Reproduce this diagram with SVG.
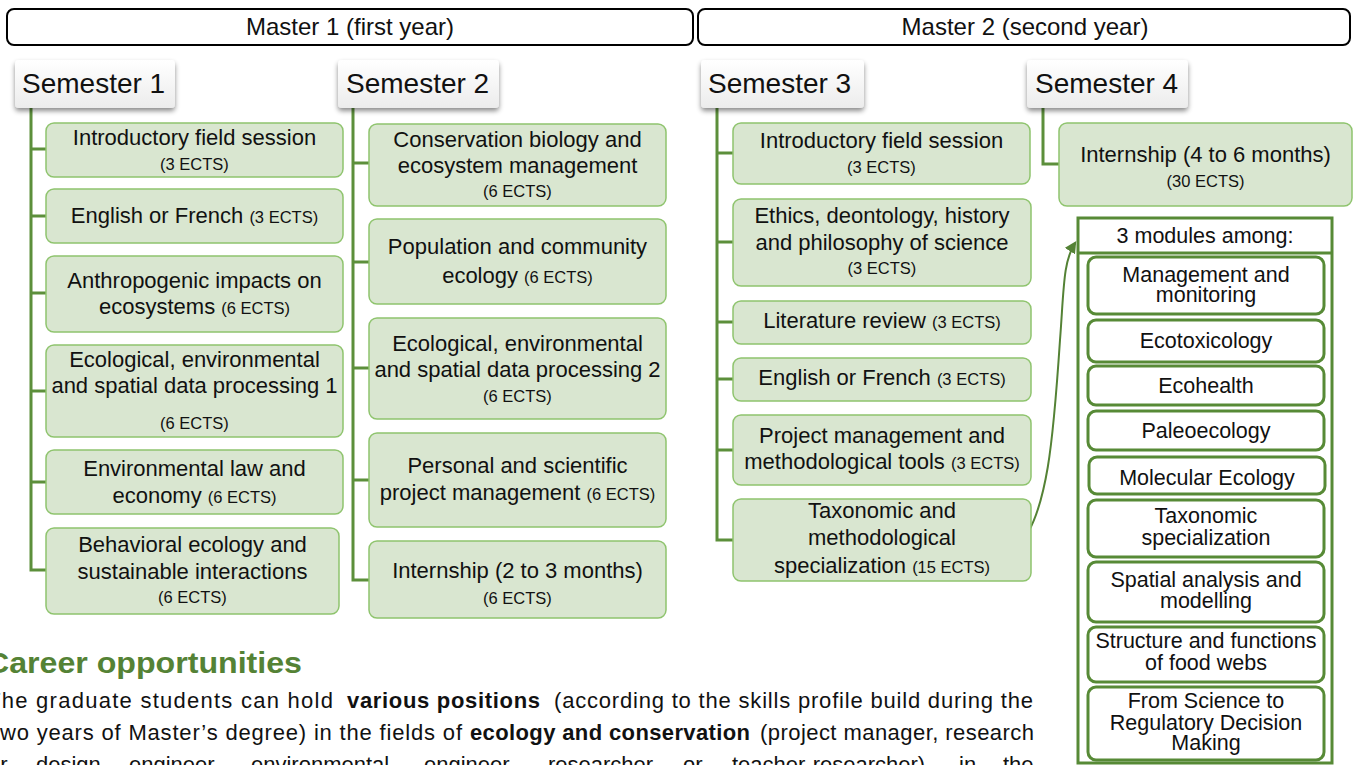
<svg xmlns="http://www.w3.org/2000/svg" width="1358" height="765" viewBox="0 0 1358 765">
<defs>
<filter id="sh" x="-10%" y="-20%" width="120%" height="160%"><feDropShadow dx="0" dy="3" stdDeviation="2.5" flood-color="#000" flood-opacity="0.45"/></filter>
<linearGradient id="sg" x1="0" y1="0" x2="0" y2="1"><stop offset="0" stop-color="#ffffff"/><stop offset="1" stop-color="#ececec"/></linearGradient>
<marker id="ah" viewBox="0 0 10 10" refX="8" refY="5" markerWidth="6" markerHeight="6" orient="auto"><path d="M0,0 L10,5 L0,10 z" fill="#548235"/></marker>
</defs>
<style>
text{font-family:"Liberation Sans",Arial,sans-serif;fill:#111}
.yr{fill:#fff;stroke:#000;stroke-width:2}
.yt{font-size:24px;text-anchor:middle}
.sem{fill:url(#sg);filter:url(#sh)}
.st{font-size:28px}
.mb{fill:#d9e6d0;stroke:#8fc46e;stroke-width:1.5}
.mt{font-size:22px;text-anchor:middle}
.e{font-size:16.5px}
.con{fill:none;stroke:#5c8f3b;stroke-width:3}
.ob{fill:#fff;stroke:#578a36;stroke-width:3}
.ot{font-size:21.5px;text-anchor:middle}
.h{font-size:30px;font-weight:bold;fill:#548235}
.b{font-size:22px}
.bb{font-weight:bold}
</style>

<!-- year headers -->
<g id="master1"><rect class="yr" x="7" y="9" width="686" height="36" rx="7"/><text class="yt" x="350" y="35">Master 1 (first year)</text></g>
<g id="master2"><rect class="yr" x="698" y="9" width="652" height="36" rx="7"/><text class="yt" x="1025" y="35">Master 2 (second year)</text></g>

<!-- connectors -->
<g id="connectors">
<path class="con" d="M31,108 V570 H46 M31,149 H46 M31,216 H46 M31,293 H46 M31,391 H46 M31,482 H46"/>
<path class="con" d="M353,108 V580 H369 M353,163 H369 M353,262 H369 M353,368 H369 M353,480 H369"/>
<path class="con" d="M717,108 V540 H733 M717,153 H733 M717,242 H733 M717,322 H733 M717,379 H733 M717,450 H733"/>
<path class="con" d="M1043,108 V164 H1059"/>
<path d="M1002,553 Q1009,552 1016,548" fill="none" stroke="#cfe3c3" stroke-width="2"/>
<path d="M1016,548 C1048,520 1054,430 1060,340 C1064,288 1063,262 1075,243" fill="none" stroke="#548235" stroke-width="2" marker-end="url(#ah)"/>
</g>

<!-- semester labels -->
<g id="sem1"><rect class="sem" x="15" y="60" width="160" height="48" rx="4"/><text class="st" x="22" y="93">Semester 1</text></g>
<g id="sem2"><rect class="sem" x="338" y="60" width="161" height="48" rx="4"/><text class="st" x="346" y="93">Semester 2</text></g>
<g id="sem3"><rect class="sem" x="701" y="60" width="163" height="48" rx="4"/><text class="st" x="708" y="93">Semester 3</text></g>
<g id="sem4"><rect class="sem" x="1027" y="60" width="161" height="48" rx="4"/><text class="st" x="1035" y="93">Semester 4</text></g>

<!-- Semester 1 modules -->
<g id="s1m1"><rect class="mb" x="46" y="123" width="297" height="54" rx="8"/><text class="mt" x="194.5" y="145">Introductory field session</text><text class="mt e" x="194.5" y="170">(3 ECTS)</text></g>
<g id="s1m2"><rect class="mb" x="46" y="189" width="297" height="54" rx="8"/><text class="mt" x="194.5" y="223">English or French <tspan class="e">(3 ECTS)</tspan></text></g>
<g id="s1m3"><rect class="mb" x="46" y="256" width="297" height="76" rx="8"/><text class="mt" x="194.5" y="288">Anthropogenic impacts on</text><text class="mt" x="194.5" y="314">ecosystems <tspan class="e">(6 ECTS)</tspan></text></g>
<g id="s1m4"><rect class="mb" x="46" y="345" width="297" height="92" rx="8"/><text class="mt" x="194.5" y="367">Ecological, environmental</text><text class="mt" x="194.5" y="393">and spatial data processing 1</text><text class="mt e" x="194.5" y="429">(6 ECTS)</text></g>
<g id="s1m5"><rect class="mb" x="46" y="450" width="297" height="64" rx="8"/><text class="mt" x="194.5" y="476">Environmental law and</text><text class="mt" x="194.5" y="503">economy <tspan class="e">(6 ECTS)</tspan></text></g>
<g id="s1m6"><rect class="mb" x="46" y="528" width="293" height="86" rx="8"/><text class="mt" x="192.5" y="552">Behavioral ecology and</text><text class="mt" x="192.5" y="579">sustainable interactions</text><text class="mt e" x="192.5" y="603">(6 ECTS)</text></g>

<!-- Semester 2 modules -->
<g id="s2m1"><rect class="mb" x="369" y="124" width="297" height="82" rx="8"/><text class="mt" x="517.5" y="147">Conservation biology and</text><text class="mt" x="517.5" y="173">ecosystem management</text><text class="mt e" x="517.5" y="197">(6 ECTS)</text></g>
<g id="s2m2"><rect class="mb" x="369" y="219" width="297" height="85" rx="8"/><text class="mt" x="517.5" y="254">Population and community</text><text class="mt" x="517.5" y="283">ecology <tspan class="e">(6 ECTS)</tspan></text></g>
<g id="s2m3"><rect class="mb" x="369" y="318" width="297" height="101" rx="8"/><text class="mt" x="517.5" y="351">Ecological, environmental</text><text class="mt" x="517.5" y="377">and spatial data processing 2</text><text class="mt e" x="517.5" y="402">(6 ECTS)</text></g>
<g id="s2m4"><rect class="mb" x="369" y="433" width="297" height="94" rx="8"/><text class="mt" x="517.5" y="473">Personal and scientific</text><text class="mt" x="517.5" y="500">project management <tspan class="e">(6 ECTS)</tspan></text></g>
<g id="s2m5"><rect class="mb" x="369" y="541" width="297" height="77" rx="8"/><text class="mt" x="517.5" y="578">Internship (2 to 3 months)</text><text class="mt e" x="517.5" y="604">(6 ECTS)</text></g>

<!-- Semester 3 modules -->
<g id="s3m1"><rect class="mb" x="733" y="123" width="297" height="61" rx="8"/><text class="mt" x="881.5" y="148">Introductory field session</text><text class="mt e" x="881.5" y="173">(3 ECTS)</text></g>
<g id="s3m2"><rect class="mb" x="733" y="199" width="298" height="87" rx="8"/><text class="mt" x="882" y="223">Ethics, deontology, history</text><text class="mt" x="882" y="250">and philosophy of science</text><text class="mt e" x="882" y="274">(3 ECTS)</text></g>
<g id="s3m3"><rect class="mb" x="733" y="301" width="298" height="43" rx="8"/><text class="mt" x="882" y="328">Literature review <tspan class="e">(3 ECTS)</tspan></text></g>
<g id="s3m4"><rect class="mb" x="733" y="358" width="298" height="43" rx="8"/><text class="mt" x="882" y="385">English or French <tspan class="e">(3 ECTS)</tspan></text></g>
<g id="s3m5"><rect class="mb" x="733" y="415" width="298" height="70" rx="8"/><text class="mt" x="882" y="443">Project management and</text><text class="mt" x="882" y="469">methodological tools <tspan class="e">(3 ECTS)</tspan></text></g>
<g id="s3m6"><rect class="mb" x="733" y="499" width="298" height="82" rx="8"/><text class="mt" x="882" y="518">Taxonomic and</text><text class="mt" x="882" y="545">methodological</text><text class="mt" x="882" y="573">specialization <tspan class="e">(15 ECTS)</tspan></text></g>

<!-- Semester 4 -->
<g id="s4m1"><rect class="mb" x="1059" y="123" width="293" height="83" rx="8"/><text class="mt" x="1205.5" y="162">Internship (4 to 6 months)</text><text class="mt e" x="1205.5" y="187">(30 ECTS)</text></g>

<!-- options -->
<g id="options">
<rect x="1078" y="218" width="254" height="545" fill="#fff" stroke="#578a36" stroke-width="3"/>
<line x1="1078" y1="253" x2="1332" y2="253" stroke="#578a36" stroke-width="3"/>
<text class="ot" x="1205" y="243">3 modules among:</text>
</g>
<g id="opt1"><rect class="ob" x="1088" y="257" width="236" height="57" rx="8"/><text class="ot" x="1206" y="282">Management and</text><text class="ot" x="1206" y="302">monitoring</text></g>
<g id="opt2"><rect class="ob" x="1088" y="320" width="236" height="42" rx="8"/><text class="ot" x="1206" y="348">Ecotoxicology</text></g>
<g id="opt3"><rect class="ob" x="1088" y="366" width="236" height="39" rx="8"/><text class="ot" x="1206" y="393">Ecohealth</text></g>
<g id="opt4"><rect class="ob" x="1088" y="411" width="236" height="39" rx="8"/><text class="ot" x="1206" y="438">Paleoecology</text></g>
<g id="opt5"><rect class="ob" x="1089" y="457" width="236" height="37" rx="8"/><text class="ot" x="1207" y="485">Molecular Ecology</text></g>
<g id="opt6"><rect class="ob" x="1088" y="500" width="236" height="57" rx="8"/><text class="ot" x="1206" y="523">Taxonomic</text><text class="ot" x="1206" y="545">specialization</text></g>
<g id="opt7"><rect class="ob" x="1088" y="562" width="236" height="60" rx="8"/><text class="ot" x="1206" y="587">Spatial analysis and</text><text class="ot" x="1206" y="608">modelling</text></g>
<g id="opt8"><rect class="ob" x="1088" y="627" width="236" height="55" rx="8"/><text class="ot" x="1206" y="648">Structure and functions</text><text class="ot" x="1206" y="670">of food webs</text></g>
<g id="opt9"><rect class="ob" x="1088" y="687" width="236" height="73" rx="8"/><text class="ot" x="1206" y="708">From Science to</text><text class="ot" x="1206" y="730">Regulatory Decision</text><text class="ot" x="1206" y="750">Making</text></g>

<!-- career text -->
<g id="career">
<text class="h" x="-14" y="673" textLength="316" lengthAdjust="spacingAndGlyphs">Career opportunities</text>
<text class="b" x="-13" y="708" textLength="346" lengthAdjust="spacing">The graduate students can hold</text>
<text class="b bb" x="347" y="708" textLength="193" lengthAdjust="spacing">various positions</text>
<text class="b" x="554" y="708" textLength="479" lengthAdjust="spacing">(according to the skills profile build during the</text>
<text class="b" x="-7" y="740" textLength="469" lengthAdjust="spacing">two years of Master’s degree) in the fields of</text>
<text class="b bb" x="470" y="740" textLength="280" lengthAdjust="spacing">ecology and conservation</text>
<text class="b" x="760" y="740" textLength="274" lengthAdjust="spacing">(project manager, research</text>
<text class="b" x="-12" y="772">or</text>
<text class="b" x="36" y="772">design</text>
<text class="b" x="129" y="772">engineer,</text>
<text class="b" x="251" y="772">environmental</text>
<text class="b" x="424" y="772">engineer,</text>
<text class="b" x="548" y="772">researcher</text>
<text class="b" x="683" y="772">or</text>
<text class="b" x="732" y="772">teacher-researcher),</text>
<text class="b" x="959" y="772">in</text>
<text class="b" x="1003" y="772">the</text>
</g>
</svg>
